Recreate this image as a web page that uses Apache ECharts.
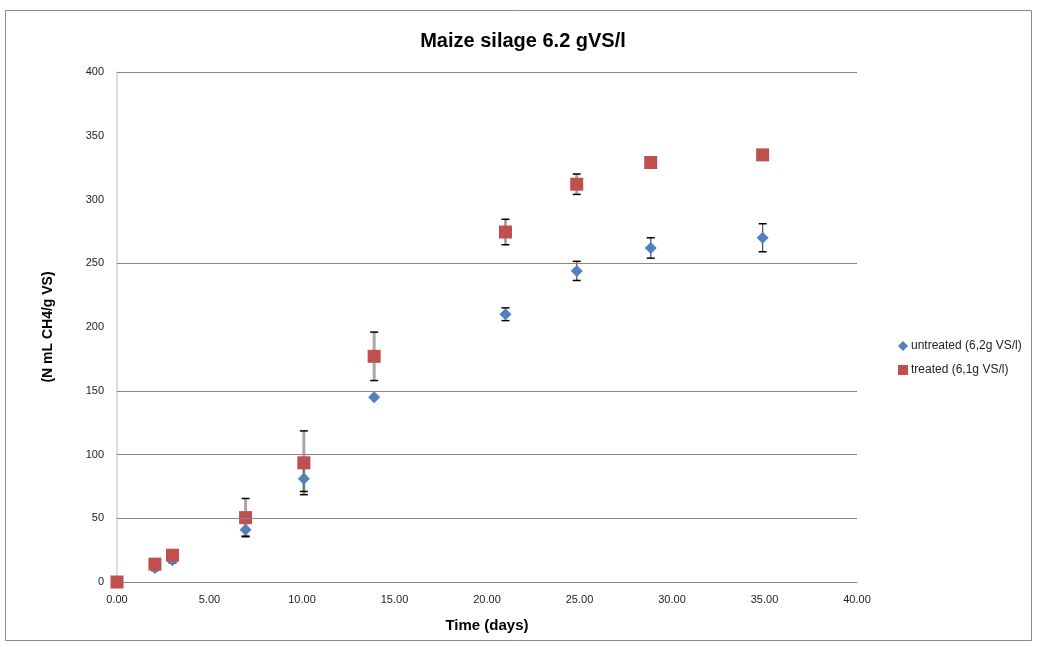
<!DOCTYPE html>
<html>
<head>
<meta charset="utf-8">
<script src="https://cdn.jsdelivr.net/npm/echarts@6/dist/echarts.min.js"></script>
<style>
  html, body { margin: 0; padding: 0; background: #fff; }
  #chart { width: 1038px; height: 647px; }
</style>
</head>
<body>
<div id="chart"></div>
<script>
// Sampling days (measured incubation time)
const days = [0, 2.05, 3.0, 6.95, 10.1, 13.9, 21.0, 24.85, 28.85, 34.9];

// Cumulative methane yield, N mL CH4 / g VS
const untreated = [0, 11, 17, 41, 81, 145, 210, 244, 262, 270];
const untreatedErr = [0, 2, 2, 5, 10, 0, 5, 7.5, 8, 11];

const treated = [0, 14, 21, 50.5, 93.5, 177, 274.5, 312, 329, 335];
const treatedErr = [0, 3, 2, 15, 25, 19, 10, 8, 0, 0];

const seriesNames = ['untreated (6,2g VS/l)', 'treated (6,1g VS/l)'];

// Horizontal gridlines drawn across the plot
const gridValues = [50, 100, 150, 250, 400];

const BLUE = '#4F81BD';
const RED = '#C0504D';
const FONT = '"Liberation Sans Narrow", "Liberation Sans", Arial, sans-serif';

function pairs(xs, ys) { return xs.map((x, i) => [x, ys[i]]); }
function errRows(xs, ys, es) {
  return xs.map((x, i) => [x, ys[i] - es[i], ys[i] + es[i]]).filter((r, i) => es[i] > 0);
}

function errorBarRenderer(lineColor, lineWidth) {
  return function (params, api) {
    const x = api.value(0);
    const lo = api.coord([x, api.value(1)]);
    const hi = api.coord([x, api.value(2)]);
    const half = 4;
    const capStyle = { stroke: '#000', lineWidth: 1.5 };
    return {
      type: 'group',
      children: [
        { type: 'line', shape: { x1: lo[0], y1: lo[1], x2: hi[0], y2: hi[1] },
          style: { stroke: lineColor, lineWidth: lineWidth } },
        { type: 'line', shape: { x1: hi[0] - half, y1: hi[1], x2: hi[0] + half, y2: hi[1] }, style: capStyle },
        { type: 'line', shape: { x1: lo[0] - half, y1: lo[1], x2: lo[0] + half, y2: lo[1] }, style: capStyle }
      ]
    };
  };
}

const chart = echarts.init(document.getElementById('chart'), null, { renderer: 'canvas' });

chart.setOption({
  backgroundColor: '#fff',
  animation: false,
  graphic: [{
    type: 'rect',
    shape: { x: 5.5, y: 10.5, width: 1026, height: 630 },
    style: { fill: 'none', stroke: '#8a8a8a', lineWidth: 1 },
    silent: true, z: -10
  }],
  title: {
    text: 'Maize silage 6.2 gVS/l',
    left: 518,
    textAlign: 'center',
    top: 26,
    textStyle: { fontFamily: '"Liberation Sans", Arial, sans-serif', fontWeight: 'bold', fontSize: 20, color: '#000' }
  },
  legend: {
    orient: 'vertical',
    left: 893,
    top: 335,
    itemGap: 12,
    itemWidth: 10,
    itemHeight: 10,
    textStyle: { fontFamily: FONT, fontSize: 12, color: '#222', padding: [0, 0, 0, -2] },
    data: [
      { name: seriesNames[0], icon: 'diamond' },
      { name: seriesNames[1], icon: 'rect' }
    ]
  },
  grid: { left: 117, right: 181, top: 72, bottom: 65, containLabel: false },
  xAxis: {
    type: 'value',
    min: 0, max: 40, interval: 5,
    name: 'Time (days)',
    nameLocation: 'middle',
    nameGap: 36,
    nameTextStyle: { fontFamily: '"Liberation Sans", Arial, sans-serif', fontWeight: 'bold', fontSize: 15, color: '#000' },
    axisLine: { show: true, onZero: false, lineStyle: { color: '#878787', width: 1 } },
    axisTick: { show: false },
    splitLine: { show: false },
    axisLabel: {
      margin: 12,
      fontFamily: FONT, fontSize: 11, color: '#222',
      formatter: v => v.toFixed(2)
    }
  },
  yAxis: {
    type: 'value',
    min: 0, max: 400, interval: 50,
    name: '(N mL CH4/g VS)',
    nameLocation: 'middle',
    nameGap: 62,
    nameRotate: 90,
    nameTextStyle: { fontFamily: '"Liberation Sans", Arial, sans-serif', fontWeight: 'bold', fontSize: 14, color: '#000' },
    axisLine: { show: true, lineStyle: { color: '#d0d0d0', width: 1.5 } },
    axisTick: { show: false },
    splitLine: { show: false },
    axisLabel: { margin: 13, fontFamily: FONT, fontSize: 11, color: '#222' }
  },
  series: [
    {
      name: 'gridlines',
      type: 'line',
      data: [],
      silent: true,
      z: 1,
      markLine: {
        silent: true,
        symbol: 'none',
        label: { show: false },
        lineStyle: { color: '#878787', width: 1, type: 'solid' },
        data: gridValues.map(v => ({ yAxis: v }))
      }
    },
    {
      name: 'treated error',
      type: 'custom',
      z: 2,
      silent: true,
      renderItem: errorBarRenderer('#a8a8a8', 3),
      encode: { x: 0, y: [1, 2] },
      data: errRows(days, treated, treatedErr)
    },
    {
      name: 'untreated error',
      type: 'custom',
      z: 2,
      silent: true,
      renderItem: errorBarRenderer('#5a5a5a', 1.3),
      encode: { x: 0, y: [1, 2] },
      data: errRows(days, untreated, untreatedErr)
    },
    {
      name: seriesNames[0],
      type: 'scatter',
      symbol: 'diamond',
      symbolSize: 12,
      z: 3,
      itemStyle: { color: BLUE, opacity: 1 },
      data: pairs(days, untreated)
    },
    {
      name: seriesNames[1],
      type: 'scatter',
      symbol: 'rect',
      symbolSize: 13,
      z: 4,
      itemStyle: { color: RED, opacity: 1 },
      data: pairs(days, treated)
    }
  ]
});
</script>
</body>
</html>
